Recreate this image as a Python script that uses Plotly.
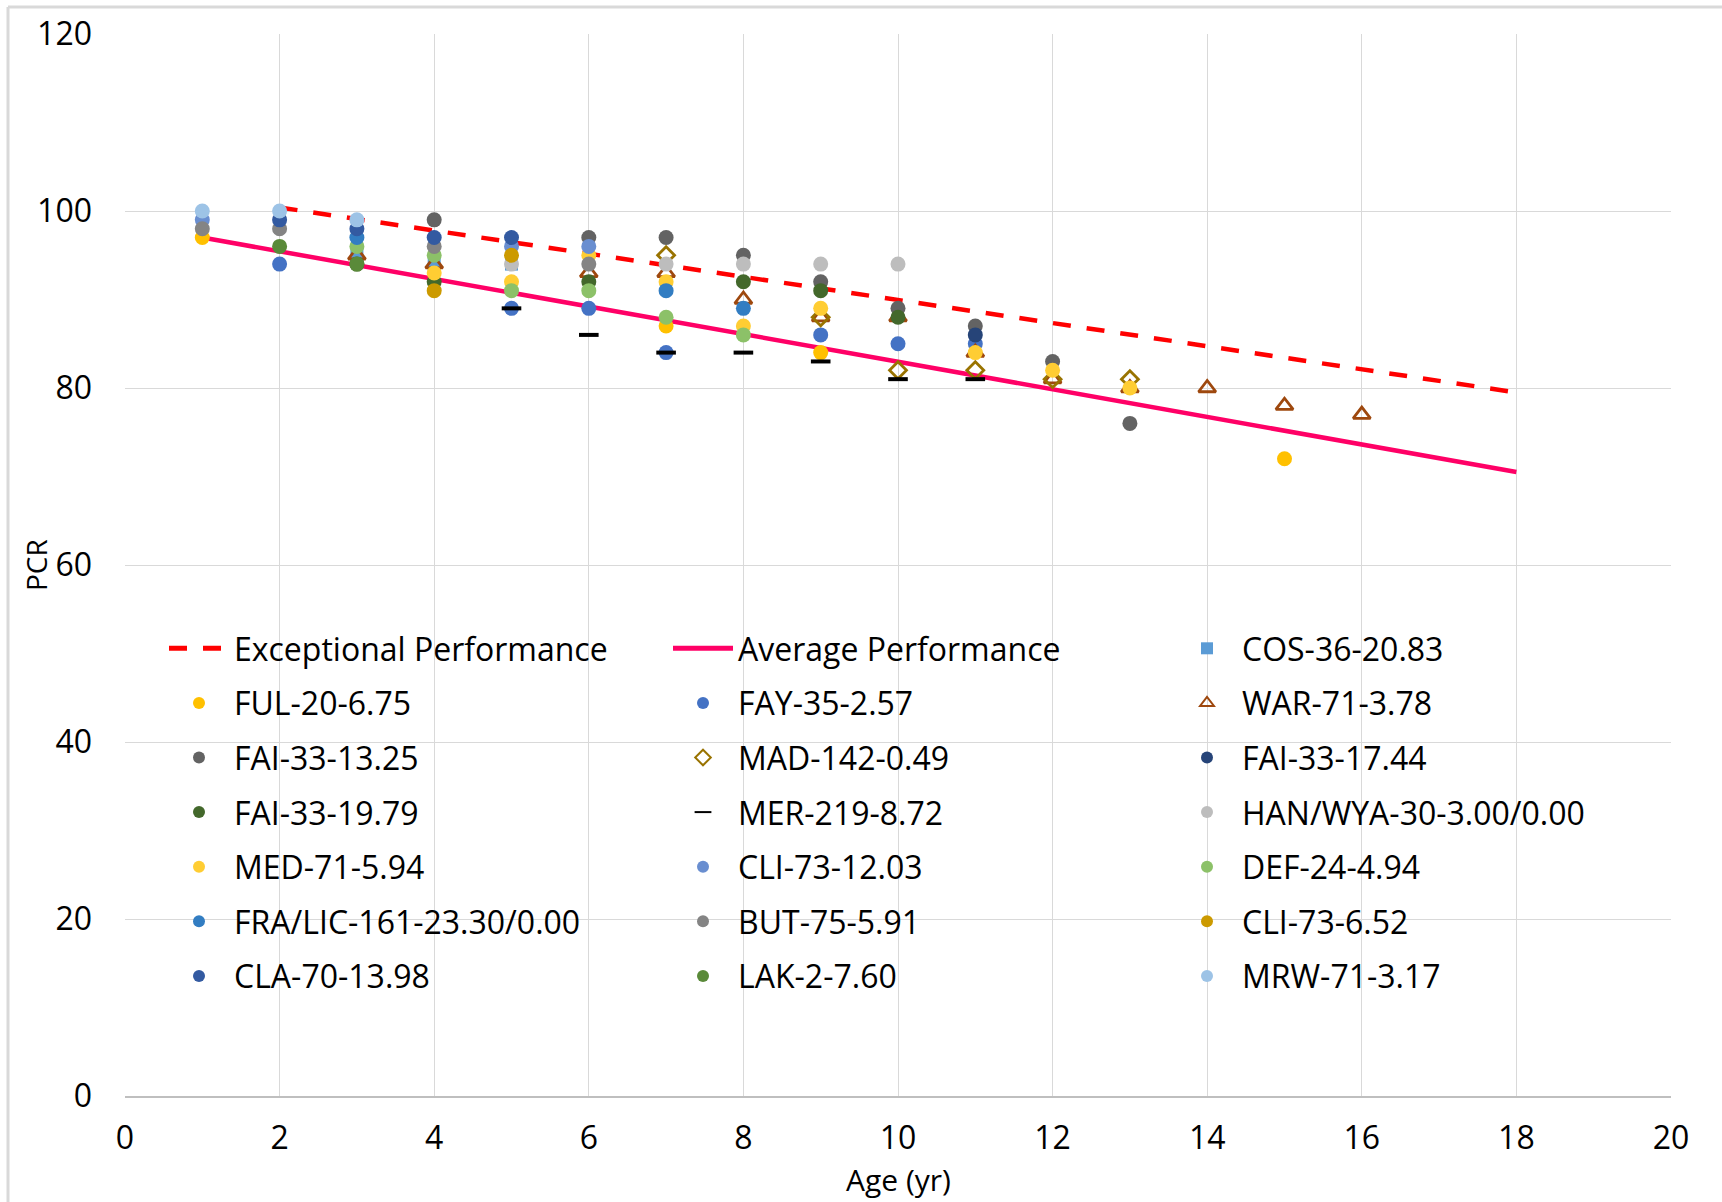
import plotly.graph_objects as go

# ---- data ----
exc_x = [2, 18]
exc_y = [100.4, 79.5]
avg_x = [1, 18]
avg_y = [97.0, 70.5]

cos_x = [3, 4, 5];                 cos_y = [95, 94, 94]
ful_x = [1, 7, 9, 15];             ful_y = [97, 87, 84, 72]
fay_x = [2, 5, 6, 7, 9, 10, 11];   fay_y = [94, 89, 89, 84, 86, 85, 85]
war_x = [3, 4, 6, 7, 8, 9, 10, 11, 12, 13, 14, 15, 16]
war_y = [95, 94, 93, 93, 90, 88, 88, 84, 81, 80, 80, 78, 77]
fai13_x = [4, 6, 7, 8, 9, 10, 11, 12, 13]
fai13_y = [99, 97, 97, 95, 92, 89, 87, 83, 76]
mad_x = [7, 9, 10, 11, 12, 13];    mad_y = [95, 88, 82, 82, 81, 81]
fai17_x = [11];                    fai17_y = [86]
fai19_x = [3, 4, 6, 8, 9, 10];     fai19_y = [94, 92, 92, 92, 91, 88]
mer_x = [5, 6, 7, 8, 9, 10, 11];   mer_y = [89, 86, 84, 84, 83, 81, 81]
han_x = [5, 7, 8, 9, 10];          han_y = [94, 94, 94, 94, 94]
med_x = [4, 5, 6, 7, 8, 9, 11, 12, 13]
med_y = [93, 92, 95, 92, 87, 89, 84, 82, 80]
cli12_x = [1, 5, 6];               cli12_y = [99, 96, 96]
def_x = [3, 4, 5, 6, 7, 8];        def_y = [96, 95, 91, 91, 88, 86]
fra_x = [3, 7, 8];                 fra_y = [97, 91, 89]
but_x = [1, 2, 4, 6];              but_y = [98, 98, 96, 94]
cli6_x = [4, 5];                   cli6_y = [91, 95]
cla_x = [2, 3, 4, 5];              cla_y = [99, 98, 97, 97]
lak_x = [2, 3];                    lak_y = [96, 94]
mrw_x = [1, 2, 3];                 mrw_y = [100, 100, 99]

x_ticks = [0, 2, 4, 6, 8, 10, 12, 14, 16, 18, 20]
y_ticks = [0, 20, 40, 60, 80, 100, 120]

FONT = "Open Sans"
FS = 32

fig = go.Figure()

def line_trace(name, x, y, color, dash, legend):
    fig.add_trace(go.Scatter(x=x, y=y, mode="lines", name=name,
                             line=dict(color=color, width=4.5, dash=dash),
                             legend=legend, legendgroup=name))

def pt(name, x, y, color, legend, symbol="circle", size=15, lw=0):
    marker = dict(symbol=symbol, size=size, color=color,
                  line=dict(color=color, width=lw))
    fig.add_trace(go.Scatter(x=x, y=y, mode="markers", name=name, marker=marker,
                             legend=legend, legendgroup=name))

# row-major legend order (3 columns)
line_trace("Exceptional Performance", exc_x, exc_y, "#FF0000", "18px,16px", "legend")
line_trace("Average Performance", avg_x, avg_y, "#FF0066", "solid", "legend2")
pt("COS-36-20.83", cos_x, cos_y, "#5B9BD5", "legend3", symbol="square", size=13)
pt("FUL-20-6.75", ful_x, ful_y, "#FFC000", "legend")
pt("FAY-35-2.57", fay_x, fay_y, "#4472C4", "legend2")
pt("WAR-71-3.78", war_x, war_y, "#9E480E", "legend3", symbol="triangle-up-open", size=15, lw=2.8)
pt("FAI-33-13.25", fai13_x, fai13_y, "#636363", "legend")
pt("MAD-142-0.49", mad_x, mad_y, "#997300", "legend2", symbol="diamond-open", size=13, lw=2.8)
pt("FAI-33-17.44", fai17_x, fai17_y, "#264478", "legend3")
pt("FAI-33-19.79", fai19_x, fai19_y, "#43682B", "legend")
pt("MER-219-8.72", mer_x, mer_y, "#000000", "legend2", symbol="line-ew", size=14, lw=4)
pt("HAN/WYA-30-3.00/0.00", han_x, han_y, "#BDBDBD", "legend3")
pt("MED-71-5.94", med_x, med_y, "#FFCD33", "legend")
pt("CLI-73-12.03", cli12_x, cli12_y, "#698ED0", "legend2")
pt("DEF-24-4.94", def_x, def_y, "#8CC168", "legend3")
pt("FRA/LIC-161-23.30/0.00", fra_x, fra_y, "#327DC2", "legend")
pt("BUT-75-5.91", but_x, but_y, "#848484", "legend2")
pt("CLI-73-6.52", cli6_x, cli6_y, "#CC9A00", "legend3")
pt("CLA-70-13.98", cla_x, cla_y, "#335AA1", "legend")
pt("LAK-2-7.60", lak_x, lak_y, "#5A8A39", "legend2")
pt("MRW-71-3.17", mrw_x, mrw_y, "#9DC3E6", "legend3")

W, H = 1722, 1202
ML, MR, MT, MB = 125, 51, 34, 106
pw = W - ML - MR
ph = H - MT - MB

def px2paper_x(px):
    return (px - ML) / pw

def px2paper_y(py):
    return (H - MB - py) / ph

leg_common = dict(bgcolor="rgba(0,0,0,0)", borderwidth=0, orientation="v",
                  font=dict(family=FONT, size=FS, color="#000000"),
                  tracegroupgap=10, itemsizing="constant", itemwidth=60,
                  xanchor="left", yanchor="top", y=px2paper_y(621))

fig.update_layout(
    width=W, height=H,
    margin=dict(l=ML, r=MR, t=MT, b=MB, autoexpand=False),
    paper_bgcolor="white", plot_bgcolor="white",
    font=dict(family=FONT, size=FS, color="#000000"),
    showlegend=True,
    legend=dict(leg_common, x=px2paper_x(164)),
    legend2=dict(leg_common, x=px2paper_x(668)),
    legend3=dict(leg_common, x=px2paper_x(1172)),
    xaxis=dict(range=[0, 20], tickvals=x_ticks, ticktext=[str(v) for v in x_ticks],
               showgrid=True, gridcolor="#D9D9D9", gridwidth=1.3, zeroline=False,
               showline=True, linecolor="#BFBFBF", linewidth=1.5,
               ticks="", ticklabelstandoff=13,
               tickfont=dict(family=FONT, size=FS, color="#000000")),
    yaxis=dict(range=[0, 120], tickvals=y_ticks, ticktext=[str(v) for v in y_ticks],
               showgrid=True, gridcolor="#D9D9D9", gridwidth=1.3, zeroline=False,
               showline=False, ticks="", ticklabelstandoff=32,
               tickfont=dict(family=FONT, size=FS, color="#000000")),
    annotations=[
        dict(text="Age (yr)", xref="paper", yref="paper", x=0.5, y=px2paper_y(1179),
             xanchor="center", yanchor="middle", showarrow=False,
             font=dict(family=FONT, size=30, color="#000000")),
        dict(text="PCR", xref="paper", yref="paper", x=px2paper_x(36), y=px2paper_y(565),
             xanchor="center", yanchor="middle", showarrow=False, textangle=-90,
             font=dict(family=FONT, size=28, color="#000000")),
    ],
    shapes=[
        dict(type="line", xref="paper", yref="paper",
             x0=px2paper_x(8), x1=px2paper_x(1722), y0=px2paper_y(7), y1=px2paper_y(7),
             line=dict(color="#D9D9D9", width=3)),
        dict(type="line", xref="paper", yref="paper",
             x0=px2paper_x(8), x1=px2paper_x(8), y0=px2paper_y(7), y1=px2paper_y(1202),
             line=dict(color="#D9D9D9", width=3)),
    ],
)

fig.write_html("out.html")
